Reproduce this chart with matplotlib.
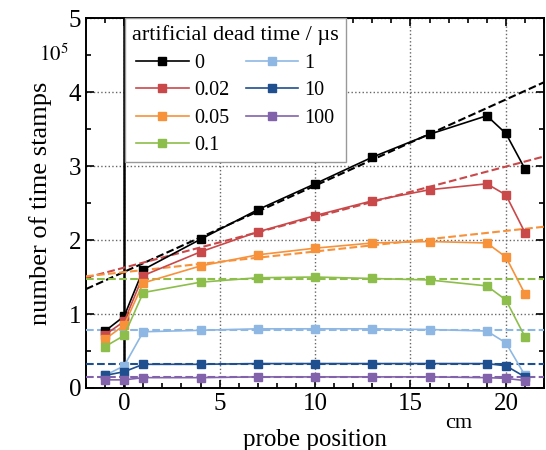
import numpy as np
import matplotlib
matplotlib.use('Agg')
import matplotlib.pyplot as plt
from matplotlib.ticker import MultipleLocator

plt.rcParams['font.family'] = ['Liberation Serif', 'DejaVu Serif']
plt.rcParams['mathtext.fontset'] = 'stix'

# probe positions in cm
pos = [-1, 0, 1, 4, 7, 10, 13, 16, 19, 20, 21]

# number of time stamps (x 1e5) per dead time
dead_times = ['0', '0.02', '0.05', '0.1', '1', '10', '100']
counts = {
    '0':    [0.77, 0.97, 1.60, 2.01, 2.41, 2.76, 3.12, 3.43, 3.68, 3.44, 2.96],
    '0.02': [0.72, 0.90, 1.52, 1.84, 2.11, 2.33, 2.53, 2.68, 2.76, 2.61, 2.10],
    '0.05': [0.66, 0.85, 1.42, 1.65, 1.80, 1.89, 1.96, 1.98, 1.96, 1.77, 1.27],
    '0.1':  [0.56, 0.71, 1.29, 1.43, 1.49, 1.50, 1.48, 1.46, 1.38, 1.19, 0.69],
    '1':    [0.17, 0.30, 0.76, 0.78, 0.80, 0.80, 0.80, 0.79, 0.77, 0.61, 0.17],
    '10':   [0.17, 0.22, 0.32, 0.32, 0.33, 0.33, 0.33, 0.33, 0.33, 0.30, 0.15],
    '100':  [0.11, 0.11, 0.14, 0.14, 0.15, 0.15, 0.15, 0.15, 0.14, 0.13, 0.10],
}
# linear fits: value at x=0 and slope
fit_int = [1.57, 1.627, 1.566, 1.47, 0.79, 0.33, 0.145]
fit_slope = [0.1165, 0.0683, 0.0279, 0.0, 0.0, 0.0, 0.0]

colors = ['#000000', '#c9484a', '#f7913a', '#8dbe4c', '#8eb8e3', '#1f4f8e', '#8263ab']

fig = plt.figure(figsize=(5.46, 4.5), dpi=100)
ax = fig.add_axes([0.1575, 0.1378, 0.839, 0.822])

xs = np.array([-2, 22])
for i, dt in enumerate(dead_times):
    ax.plot(xs, fit_int[i] + fit_slope[i] * xs, '--', color=colors[i], lw=1.5, zorder=3)
for i, dt in enumerate(dead_times):
    ax.plot(pos, counts[dt], '-s', color=colors[i], lw=1.2, ms=6, label=dt, zorder=4)

ax.axvline(0, color='black', lw=1.8, zorder=2)

ax.set_xlim(-2, 22)
ax.set_ylim(0, 5)
ax.xaxis.set_major_locator(MultipleLocator(5))
ax.xaxis.set_minor_locator(MultipleLocator(1))
ax.yaxis.set_major_locator(MultipleLocator(1))
ax.yaxis.set_minor_locator(MultipleLocator(0.5))
ax.tick_params(which='both', direction='in', top=True, right=True, labelsize=18, width=1.2)
ax.tick_params(which='major', length=6)
ax.tick_params(which='minor', length=3.5)
ax.grid(True, which='major', color='#666666', ls=':', lw=1, zorder=1)
for s in ax.spines.values():
    s.set_linewidth(1.4)

ax.set_xlabel('probe position', fontsize=18, labelpad=10)
ax.set_ylabel('number of time stamps', fontsize=19, labelpad=12)
fig.text(0.072, 0.865, r'$10^5$', fontsize=15)
fig.text(0.815, 0.05, 'cm', fontsize=16)

leg = ax.legend(ncol=2, title='artificial dead time / µs', loc='upper left',
                bbox_to_anchor=(0.085, 1.0), borderaxespad=0, fontsize=14.5,
                title_fontsize=16, fancybox=False, framealpha=1,
                edgecolor='#999999', handlelength=2.6, numpoints=1,
                columnspacing=0.8, labelspacing=0.42, handletextpad=0.3,
                borderpad=0.35)
leg.set_zorder(10)

fig.savefig('out.png', dpi=100)
